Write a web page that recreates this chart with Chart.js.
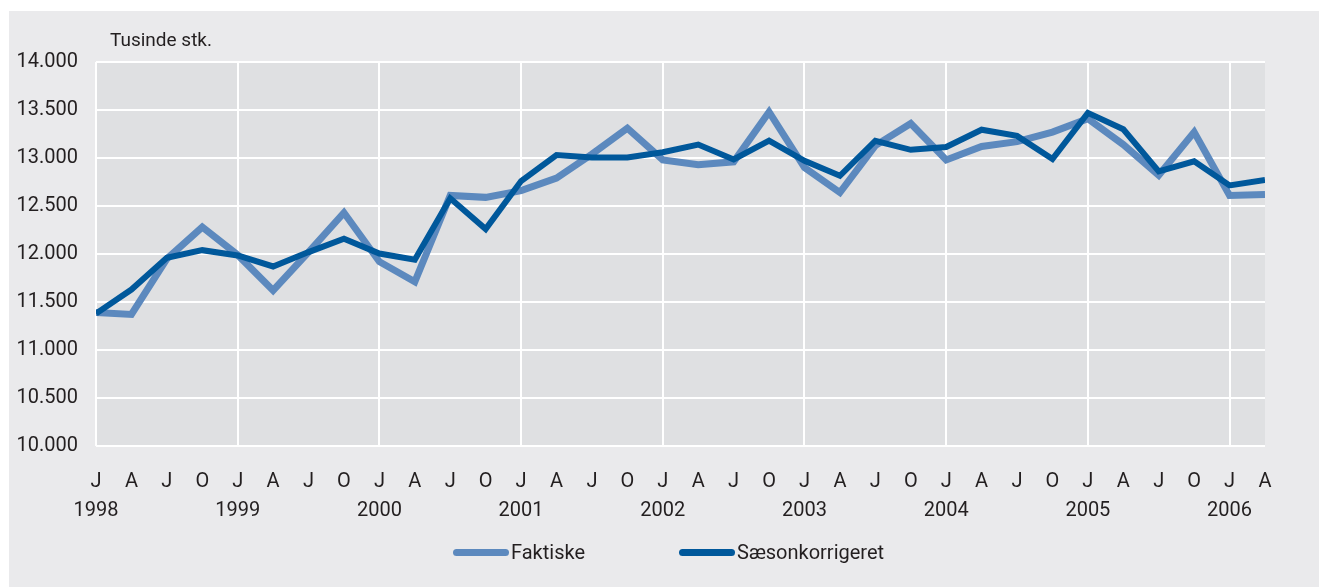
<!DOCTYPE html>
<html>
<head>
<meta charset="utf-8">
<title>Tusinde stk.</title>
<script src="https://cdn.jsdelivr.net/npm/chart.js@4/dist/chart.umd.min.js"></script>
<style>
  body { margin: 0; background: #ffffff; font-family: 'Roboto', sans-serif; }
  #panel { position: absolute; left: 9px; top: 11px; width: 1310px; height: 576px; background: #eaeaec; }
  #chart { position: absolute; left: 0; top: 0; }
  .legend-item { position: absolute; top: 528px; height: 26px; line-height: 26px; font-size: 20px; color: #231f20; white-space: nowrap; }
  .swatch { position: absolute; top: 9.5px; width: 56px; height: 7px; border-radius: 3.5px; }
  .legend-item span.txt { position: absolute; left: 58px; top: 0; }
</style>
</head>
<body>
<div id="panel">
  <canvas id="chart" width="1310" height="576"></canvas>
  <div class="legend-item" style="left:444px"><div class="swatch" style="background:#5c89be"></div><span class="txt">Faktiske</span></div>
  <div class="legend-item" style="left:670px"><div class="swatch" style="background:#00589b"></div><span class="txt">Sæsonkorrigeret</span></div>
</div>
<script>
const quarters = ['J', 'A', 'J', 'O', 'J', 'A', 'J', 'O', 'J', 'A', 'J', 'O', 'J', 'A', 'J', 'O', 'J',
  'A', 'J', 'O', 'J', 'A', 'J', 'O', 'J', 'A', 'J', 'O', 'J', 'A', 'J', 'O', 'J', 'A'];
const years = ['1998', '', '', '', '1999', '', '', '', '2000', '', '', '', '2001', '', '', '', '2002',
  '', '', '', '2003', '', '', '', '2004', '', '', '', '2005', '', '', '', '2006', ''];

const faktiske = [11390, 11370, 11950, 12280, 11990, 11620, 12020, 12430, 11920, 11710, 12610, 12590,
  12660, 12790, 13040, 13310, 12980, 12930, 12960, 13480, 12900, 12640, 13130, 13360,
  12980, 13120, 13170, 13270, 13410, 13140, 12820, 13270, 12610, 12620];
const saesonkorrigeret = [11380, 11630, 11960, 12040, 11985, 11870, 12020, 12160, 12005, 11940, 12580, 12260,
  12760, 13030, 13005, 13005, 13060, 13140, 12985, 13180, 12970, 12815, 13180, 13085,
  13115, 13295, 13230, 12990, 13470, 13300, 12860, 12965, 12715, 12770];

const yMin = 10000;
const yMax = 14000;
const yStep = 500;

const fontFamily = "'Roboto', sans-serif";
const textColor = '#231f20';

const labels = quarters.map((q, i) => [q, years[i]]);

// plot background and the unit text above the y axis
const plotDecor = {
  id: 'plotDecor',
  beforeDraw(chart) {
    const {ctx, chartArea: a} = chart;
    ctx.save();
    ctx.fillStyle = '#dfe0e2';
    ctx.fillRect(a.left, a.top, a.right - a.left, a.bottom - a.top);
    ctx.restore();
  },
  afterDraw(chart) {
    const {ctx, chartArea: a} = chart;
    ctx.save();
    ctx.font = '19px ' + fontFamily;
    ctx.fillStyle = textColor;
    ctx.textBaseline = 'middle';
    ctx.fillText('Tusinde stk.', a.left + 14, a.top - 21);
    ctx.restore();
  }
};

const ctx = document.getElementById('chart').getContext('2d');
const chart = new Chart(ctx, {
  type: 'line',
  data: {
    labels: labels,
    datasets: [
      {
        label: 'Faktiske',
        data: faktiske,
        borderColor: '#5c89be',
        backgroundColor: '#5c89be',
        borderWidth: 7,
        order: 2
      },
      {
        label: 'Sæsonkorrigeret',
        data: saesonkorrigeret,
        borderColor: '#00589b',
        backgroundColor: '#00589b',
        borderWidth: 6,
        order: 1
      }
    ]
  },
  options: {
    responsive: false,
    animation: false,
    devicePixelRatio: 1,
    layout: {
      padding: {left: 0, top: 51, right: 54, bottom: 0}
    },
    elements: {
      point: {radius: 0},
      line: {tension: 0, borderJoinStyle: 'miter', fill: false}
    },
    datasets: {
      line: {clip: 0}
    },
    scales: {
      x: {
        afterFit(scale) { scale.height = 141; },
        border: {display: false},
        grid: {
          drawTicks: false,
          lineWidth: 2,
          color: c => (c.index % 4 === 0 ? '#ffffff' : 'rgba(0,0,0,0)')
        },
        ticks: {
          autoSkip: false,
          maxRotation: 0,
          padding: 21,
          color: textColor,
          font: {family: fontFamily, size: 20, lineHeight: 1.45}
        }
      },
      y: {
        min: yMin,
        max: yMax,
        afterFit(scale) { scale.width = 87; },
        border: {display: false},
        grid: {drawTicks: false, lineWidth: 2, color: '#ffffff'},
        ticks: {
          stepSize: yStep,
          padding: 18,
          color: textColor,
          font: {family: fontFamily, size: 20},
          callback: v => formatThousands(v)
        }
      }
    },
    plugins: {
      legend: {display: false},
      tooltip: {enabled: false}
    }
  },
  plugins: [plotDecor]
});

function formatThousands(v) {
  return String(v).replace(/\B(?=(\d{3})+(?!\d))/g, '.');
}
</script>
</body>
</html>
